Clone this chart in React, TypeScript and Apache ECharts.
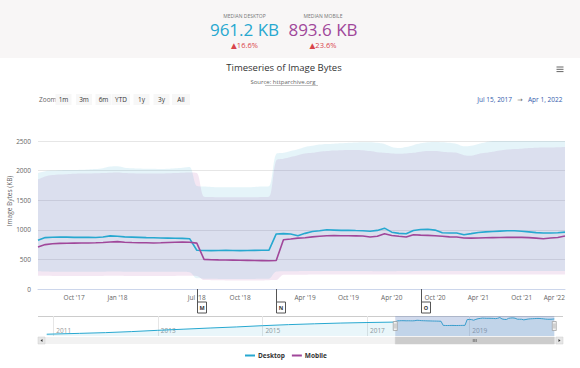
import React, { useEffect, useRef } from "react";
import * as echarts from "echarts";

// ---------- data ----------
const mainDates = [
  "2017-07-15", "2017-08-01", "2017-08-15", "2017-09-01", "2017-09-15", "2017-10-01", "2017-10-15",
  "2017-11-01", "2017-11-15", "2017-12-01", "2017-12-15",
  "2018-01-01", "2018-01-15", "2018-02-01", "2018-02-15", "2018-03-01", "2018-03-15", "2018-04-01",
  "2018-05-01", "2018-05-15", "2018-06-01", "2018-06-15", "2018-07-01", "2018-07-15", "2018-08-01",
  "2018-08-15", "2018-09-01", "2018-09-15", "2018-10-01", "2018-10-15", "2018-11-01", "2018-11-15",
  "2018-12-01", "2018-12-15",
  "2019-01-01", "2019-02-01", "2019-03-01", "2019-04-01", "2019-05-01", "2019-06-01", "2019-07-01",
  "2019-08-01", "2019-09-01", "2019-10-01", "2019-11-01", "2019-12-01",
  "2020-01-01", "2020-02-01", "2020-03-01", "2020-04-01", "2020-05-01", "2020-06-01", "2020-07-01",
  "2020-08-01", "2020-09-01", "2020-10-01", "2020-11-01", "2020-12-01",
  "2021-01-01", "2021-02-01", "2021-03-01", "2021-04-01", "2021-05-01", "2021-06-01", "2021-07-01",
  "2021-08-01", "2021-09-01", "2021-10-01", "2021-11-01", "2021-12-01",
  "2022-01-01", "2022-02-01", "2022-03-01", "2022-04-01",
];

const desktopMedian = [
  822, 868, 875, 878, 876, 872, 874, 872, 870, 878, 898, 890, 880, 876, 872, 868, 866, 862, 860, 858, 855, 850,
  655, 650, 648, 650, 652, 650, 648, 650, 652, 654, 656,
  930, 935, 928, 900, 940, 972, 985, 1000, 995, 990, 992, 988, 985,
  975, 990, 1028, 960, 940, 933, 988, 1005, 1010, 995, 950, 945,
  945, 917, 935, 955, 965, 972, 978, 983, 983, 975, 965, 952,
  945, 945, 950, 961,
];

const mobileMedian = [
  711, 750, 765, 770, 772, 775, 778, 778, 780, 785, 795, 800, 790, 785, 782, 780, 778, 780, 785, 790, 795, 790,
  775,
  500, 495, 492, 490, 488, 486, 484, 482, 480, 478, 482,
  833, 845, 860, 865, 880, 890, 900, 902, 900, 900, 898, 895,
  878, 890, 933, 905, 890, 878, 917, 910, 905, 900, 890, 880,
  878, 861, 860, 861, 865, 868, 870, 872, 872, 872, 868, 860,
  850, 862, 870, 894,
];

const desktopHigh = [
  1960, 1990, 2000, 2005, 2010, 2010, 2015, 2020, 2025, 2040, 2070, 2075, 2050, 2040, 2035, 2030, 2030, 2025, 2030, 2040, 2050, 2060,
  1740, 1730, 1725, 1720, 1720, 1720, 1720, 1720, 1725, 1730, 1735,
  2280, 2300, 2330, 2360, 2400, 2420, 2440, 2450, 2455, 2460, 2470, 2475, 2480,
  2480, 2470, 2450, 2400, 2380, 2400, 2430, 2460, 2480, 2485, 2480, 2470,
  2450, 2410, 2420, 2450, 2480, 2500, 2520, 2540, 2550, 2545, 2540, 2530,
  2520, 2515, 2515, 2520,
];

const desktopLow = [
  300, 295, 292, 290, 290, 290, 290, 290, 290, 292, 295, 295, 292, 290, 290, 290, 290, 290, 290, 290, 290, 285,
  180, 175, 172, 170, 170, 170, 170, 170, 170, 172, 175,
  295, 300, 300, 300, 302, 302, 305, 305, 305, 305, 305, 305, 305,
  305, 300, 300, 300, 305, 305, 305, 305, 305, 305, 305, 305,
  305, 305, 305, 305, 305, 305, 305, 305, 305, 305, 305, 305,
  305, 305, 305, 305,
];

const mobileHigh = [
  1850, 1900, 1925, 1935, 1940, 1945, 1950, 1950, 1955, 1960, 1965, 1970, 1960, 1955, 1950, 1950, 1950, 1950, 1955, 1960, 1965, 1970,
  1960,
  1560, 1555, 1550, 1550, 1550, 1550, 1550, 1550, 1555, 1560,
  2170,
  2200, 2230, 2260, 2290, 2300, 2320, 2330, 2340, 2345, 2350, 2350, 2345,
  2330, 2310, 2300, 2290, 2285, 2290, 2300, 2320, 2330, 2330, 2320, 2310,
  2300, 2260, 2250, 2280, 2300, 2320, 2340, 2355, 2365, 2370, 2380, 2385,
  2390, 2390, 2395, 2400,
];

const mobileLow = [
  225, 222, 220, 220, 220, 220, 218, 218, 218, 220, 222, 222, 220, 220, 218, 218, 218, 218, 220, 220, 222, 222,
  220,
  150, 148, 146, 145, 145, 145, 145, 145, 145, 148, 150,
  240, 240, 242, 242, 245, 245, 245, 245, 245, 245, 245, 245,
  245, 245, 245, 245, 245, 245, 245, 245, 245, 245, 245, 245,
  245, 245, 245, 245, 245, 245, 245, 245, 245, 245, 245, 245,
  245, 245, 245, 245,
];

const xLabelDates = [
  "2017-10-01", "2018-01-01", "2018-07-01", "2018-10-01", "2019-04-01", "2019-10-01",
  "2020-04-01", "2020-10-01", "2021-04-01", "2021-10-01", "2022-04-01",
];
const xLabelText = ["Oct '17", "Jan '18", "Jul '18", "Oct '18", "Apr '19", "Oct '19", "Apr '20", "Oct '20", "Apr '21", "Oct '21", "Apr '22"];

const yMin = 0;
const yMax = 2500;
const yStep = 500;

const flagDates = ["2018-07-01", "2018-12-15", "2020-08-01"];
const flagText = ["M", "N", "O"];

// navigator history (desktop median) before the main window
const navHistDates = [
  "2010-11-15", "2011-07-01", "2012-01-01", "2012-07-01", "2013-01-01", "2013-07-01", "2014-01-01",
  "2014-07-01", "2015-01-01", "2015-07-01", "2016-01-01", "2016-07-01", "2017-01-01", "2017-07-01",
];
const navHistDesktop = [235, 275, 310, 360, 420, 475, 530, 580, 640, 690, 730, 765, 790, 810];
const navTickDates = ["2011-01-01", "2013-01-01", "2015-01-01", "2017-01-01", "2019-01-01"];
const navTickText = ["2011", "2013", "2015", "2017", "2019"];

const medianDesktopText = "961.2 KB";
const medianMobileText = "893.6 KB";
const changeDesktopText = "16.6%";
const changeMobileText = "23.6%";

const rangeButtons = ["1m", "3m", "6m", "YTD", "1y", "3y", "All"];

// ---------- styles ----------
const FONT = '"Open Sans", "DejaVu Sans", sans-serif';
const C_DESK = "#27a8d0";
const C_MOB = "#a0479a";
const C_RED = "#d8434a";

const MONTHS = ["Jan", "Feb", "Mar", "Apr", "May", "Jun", "Jul", "Aug", "Sep", "Oct", "Nov", "Dec"];
function fmtDate(s: string) {
  const [y, m, d] = s.split("-").map(Number);
  return `${MONTHS[m - 1]} ${d}, ${y}`;
}

// ordinal list of crawl dates for the navigator (twice monthly before the main window)
function buildNavDates() {
  const out: string[] = [];
  for (let y = 2010; y <= 2017; y++) {
    for (let m = 1; m <= 12; m++) {
      for (const d of [1, 15]) {
        const s = `${y}-${String(m).padStart(2, "0")}-${String(d).padStart(2, "0")}`;
        if (s >= "2010-11-15" && s < mainDates[0]) out.push(s);
      }
    }
  }
  return out.concat(mainDates);
}

export default function App() {
  const ref = useRef<HTMLDivElement>(null);

  useEffect(() => {
    if (!ref.current) return;
    const chart = echarts.init(ref.current, null, { renderer: "svg" });

    const navDates = buildNavDates();
    const navIdx = (d: string) => navDates.indexOf(d);
    const navData: number[][] = [];
    navHistDates.forEach((d, i) => navData.push([navIdx(d), navHistDesktop[i]]));
    mainDates.forEach((d, i) => navData.push([navIdx(d), desktopMedian[i]]));
    const navTickIdx = navTickDates.map(navIdx);
    const maskStart = navIdx(mainDates[0]);
    const maskEnd = navIdx(mainDates[mainDates.length - 1]);
    const navMin = -4;
    const navMax = navDates.length - 1 + 4;

    const labelMap: Record<string, string> = {};
    xLabelDates.forEach((d, i) => (labelMap[d] = xLabelText[i]));

    const graphics: any[] = [
      { type: "rect", shape: { x: 0, y: 0, width: 580, height: 58 }, style: { fill: "#f8f6f6" }, silent: true },
      { type: "text", x: 244.5, y: 16, style: { text: "MEDIAN DESKTOP", textAlign: "center", textVerticalAlign: "middle", fontSize: 5, fill: "#777", fontFamily: FONT } },
      { type: "text", x: 244.5, y: 29.5, style: { text: medianDesktopText, textAlign: "center", textVerticalAlign: "middle", fontSize: 17, fill: C_DESK, fontFamily: FONT } },
      { type: "text", x: 244.5, y: 44.5, style: { text: "▲" + changeDesktopText, textAlign: "center", textVerticalAlign: "middle", fontSize: 7.5, fill: C_RED, fontFamily: FONT } },
      { type: "text", x: 323, y: 16, style: { text: "MEDIAN MOBILE", textAlign: "center", textVerticalAlign: "middle", fontSize: 5, fill: "#777", fontFamily: FONT } },
      { type: "text", x: 323, y: 29.5, style: { text: medianMobileText, textAlign: "center", textVerticalAlign: "middle", fontSize: 17, fill: C_MOB, fontFamily: FONT } },
      { type: "text", x: 323, y: 44.5, style: { text: "▲" + changeMobileText, textAlign: "center", textVerticalAlign: "middle", fontSize: 7.5, fill: C_RED, fontFamily: FONT } },
      // title
      { type: "text", x: 284, y: 67.5, style: { text: "Timeseries of Image Bytes", textAlign: "center", textVerticalAlign: "middle", fontSize: 9.5, fill: "#333", fontFamily: FONT } },
      { type: "text", x: 283, y: 82, style: { text: "Source: httparchive.org", textAlign: "center", textVerticalAlign: "middle", fontSize: 6, fill: "#666", fontFamily: FONT } },
      { type: "line", shape: { x1: 265, y1: 85.5, x2: 318, y2: 85.5 }, style: { stroke: "#888", lineWidth: 0.5 }, silent: true },
      // hamburger
      { type: "line", shape: { x1: 556.5, y1: 67, x2: 563.5, y2: 67 }, style: { stroke: "#666", lineWidth: 1 } },
      { type: "line", shape: { x1: 556.5, y1: 69.3, x2: 563.5, y2: 69.3 }, style: { stroke: "#666", lineWidth: 1 } },
      { type: "line", shape: { x1: 556.5, y1: 71.6, x2: 563.5, y2: 71.6 }, style: { stroke: "#666", lineWidth: 1 } },
      // range selector
      { type: "text", x: 39, y: 99.5, style: { text: "Zoom", textAlign: "left", textVerticalAlign: "middle", fontSize: 6.5, fill: "#666", fontFamily: FONT } },
      // date range
      { type: "text", x: 512, y: 99.5, style: { text: fmtDate(mainDates[0]), textAlign: "right", textVerticalAlign: "middle", fontSize: 6.5, fill: "#335cad", fontFamily: FONT } },
      { type: "text", x: 520, y: 99.5, style: { text: "→", textAlign: "center", textVerticalAlign: "middle", fontSize: 6.5, fill: "#666", fontFamily: FONT } },
      { type: "text", x: 528, y: 99.5, style: { text: fmtDate(mainDates[mainDates.length - 1]), textAlign: "left", textVerticalAlign: "middle", fontSize: 6.5, fill: "#335cad", fontFamily: FONT } },
      // y axis title
      { type: "text", x: 9, y: 201, rotation: Math.PI / 2, style: { text: "Image Bytes (KB)", textAlign: "center", textVerticalAlign: "middle", fontSize: 6.5, fill: "#666", fontFamily: FONT } },
      // navigator outline
      { type: "line", shape: { x1: 38, y1: 316.5, x2: 563, y2: 316.5 }, style: { stroke: "#cccccc", lineWidth: 1 }, silent: true },
      // scrollbar track + buttons
      { type: "rect", shape: { x: 38, y: 337, width: 525, height: 7 }, style: { fill: "#f2f2f2" }, silent: true },
      { type: "rect", shape: { x: 38, y: 337, width: 7, height: 7 }, style: { fill: "#e6e6e6", stroke: "#cccccc", lineWidth: 0.5 }, silent: true },
      { type: "polygon", shape: { points: [[40.5, 340.5], [42.5, 339], [42.5, 342]] }, style: { fill: "#333" }, silent: true },
      { type: "rect", shape: { x: 556, y: 337, width: 7, height: 7 }, style: { fill: "#e6e6e6", stroke: "#cccccc", lineWidth: 0.5 }, silent: true },
      { type: "polygon", shape: { points: [[560.5, 340.5], [558.5, 339], [558.5, 342]] }, style: { fill: "#333" }, silent: true },
    ];

    const btnCenters = [63.5, 84, 103.5, 121, 141.5, 161.5, 181];
    rangeButtons.forEach((b, i) => {
      const w = b.length > 2 ? 18 : 16;
      graphics.push({ type: "rect", shape: { x: btnCenters[i] - w / 2, y: 94, width: w, height: 11 }, style: { fill: "#f7f7f7" }, silent: true });
      graphics.push({ type: "text", x: btnCenters[i], y: 99.5, style: { text: b, textAlign: "center", textVerticalAlign: "middle", fontSize: 6.5, fill: "#333", fontFamily: FONT } });
    });

    const bandCommon = { type: "line", symbol: "none", silent: true, smooth: 0.3, lineStyle: { opacity: 0, width: 0 }, xAxisIndex: 0, yAxisIndex: 0 };

    const option: any = {
      animation: false,
      textStyle: { fontFamily: FONT },
      graphic: graphics,
      legend: {
        data: ["Desktop", "Mobile"],
        left: 240,
        top: 347,
        icon: "rect",
        itemWidth: 10,
        itemHeight: 2,
        itemGap: 7,
        textStyle: { fontSize: 6.5, fontWeight: "bold", color: "#333", fontFamily: FONT, padding: [0, 0, 0, -2] },
      },
      grid: [
        { left: 38, right: 15, top: 141, height: 148 },
        { left: 38, right: 17, top: 316, height: 20 },
      ],
      xAxis: [
        {
          type: "category",
          gridIndex: 0,
          data: mainDates,
          boundaryGap: false,
          axisLine: { lineStyle: { color: "#ccd6eb" } },
          axisTick: { show: false },
          splitLine: { show: false },
          axisLabel: {
            interval: (idx: number) => labelMap[mainDates[idx]] !== undefined,
            formatter: (v: string) => labelMap[v] || "",
            fontSize: 6.5,
            color: "#666",
            margin: 5,
            alignMaxLabel: "right",
          },
        },
        {
          type: "value",
          gridIndex: 1,
          min: navMin,
          max: navMax,
          axisLine: { show: false },
          axisTick: { show: false, customValues: navTickIdx },
          splitLine: { show: true, lineStyle: { color: "#e6e6e6", width: 1 } },
          axisLabel: {
            customValues: navTickIdx,
            formatter: (v: number) => navTickText[navTickIdx.indexOf(v)] || "",
            inside: true,
            align: "left",
            padding: [0, 0, 0, 3],
            margin: 2,
            fontSize: 6.5,
            color: "#999",
          },
        },
      ],
      yAxis: [
        {
          type: "value",
          gridIndex: 0,
          min: yMin,
          max: yMax,
          interval: yStep,
          axisLine: { show: false },
          axisTick: { show: false },
          splitLine: { lineStyle: { color: "#e6e6e6" } },
          axisLabel: { fontSize: 6.5, color: "#666", margin: 7, padding: [0, 0, 4, 0], formatter: (v: number) => String(v) },
        },
        { type: "value", gridIndex: 1, min: 150, max: 1100, show: false, splitLine: { show: false } },
      ],
      series: [
        { ...bandCommon, name: "mLow", stack: "mband", data: mobileLow, z: 1 },
        {
          ...bandCommon,
          name: "Mobile range",
          stack: "mband",
          data: mobileHigh.map((v, i) => v - mobileLow[i]),
          areaStyle: { color: "rgba(170,70,160,0.13)", opacity: 1 },
          z: 1,
        },
        { ...bandCommon, name: "dLow", stack: "dband", data: desktopLow, z: 1 },
        {
          ...bandCommon,
          name: "Desktop range",
          stack: "dband",
          data: desktopHigh.map((v, i) => v - desktopLow[i]),
          areaStyle: { color: "rgba(39,168,208,0.12)", opacity: 1 },
          z: 1,
        },
        {
          name: "Desktop",
          type: "line",
          data: desktopMedian,
          symbol: "none",
          lineStyle: { color: C_DESK, width: 1.6 },
          itemStyle: { color: C_DESK },
          z: 3,
        },
        {
          name: "Mobile",
          type: "line",
          data: mobileMedian,
          symbol: "none",
          lineStyle: { color: C_MOB, width: 1.6 },
          itemStyle: { color: C_MOB },
          z: 3,
        },
        {
          name: "flags",
          type: "custom",
          xAxisIndex: 0,
          yAxisIndex: 0,
          silent: true,
          clip: false,
          z: 5,
          data: flagDates.map((d) => [d, 0]),
          renderItem: (params: any, api: any) => {
            const p = api.coord([api.value(0), 0]);
            const x = Math.round(p[0]) + 0.5;
            const y = p[1];
            return {
              type: "group",
              children: [
                { type: "line", shape: { x1: x, y1: y, x2: x, y2: y + 24 }, style: { stroke: "#555", lineWidth: 1 } },
                { type: "rect", shape: { x: x, y: y + 13, width: 9, height: 11 }, style: { fill: "#fff", stroke: "#555", lineWidth: 1 } },
                {
                  type: "text",
                  style: {
                    text: flagText[params.dataIndex],
                    x: x + 4.5,
                    y: y + 18.7,
                    textAlign: "center",
                    textVerticalAlign: "middle",
                    fontSize: 5.5,
                    fontWeight: "bold",
                    fill: "#333",
                    fontFamily: FONT,
                  },
                },
              ],
            };
          },
        },
        {
          name: "navigator",
          type: "line",
          xAxisIndex: 1,
          yAxisIndex: 1,
          data: navData,
          symbol: "none",
          connectNulls: true,
          silent: true,
          lineStyle: { color: C_DESK, width: 1 },
          areaStyle: { color: "rgba(39,168,208,0.1)", opacity: 1, origin: "start" },
          z: 2,
        },
        {
          name: "navmask",
          type: "custom",
          xAxisIndex: 1,
          yAxisIndex: 1,
          silent: true,
          clip: false,
          z: 4,
          data: [[maskStart, maskEnd]],
          encode: { x: [0, 1] },
          renderItem: (params: any, api: any) => {
            const a = api.coord([api.value(0), 1100]);
            const b = api.coord([api.value(1), 150]);
            const x1 = a[0];
            const x2 = b[0];
            const top = a[1];
            const bot = b[1];
            const mid = (top + bot) / 2;
            const handle = (hx: number) => ({
              type: "group",
              children: [
                { type: "rect", shape: { x: hx - 2, y: mid - 4.5, width: 4, height: 9 }, style: { fill: "#f2f2f2", stroke: "#999", lineWidth: 0.7 } },
                { type: "line", shape: { x1: hx - 0.5, y1: mid - 2.5, x2: hx - 0.5, y2: mid + 2.5 }, style: { stroke: "#999", lineWidth: 0.5 } },
                { type: "line", shape: { x1: hx + 0.7, y1: mid - 2.5, x2: hx + 0.7, y2: mid + 2.5 }, style: { stroke: "#999", lineWidth: 0.5 } },
              ],
            });
            const gx = (x1 + x2) / 2;
            return {
              type: "group",
              children: [
                { type: "rect", shape: { x: x1, y: top, width: x2 - x1, height: bot - top }, style: { fill: "rgba(102,133,194,0.3)" } },
                handle(x1),
                handle(x2),
                { type: "rect", shape: { x: x1, y: 337, width: x2 - x1, height: 7 }, style: { fill: "#cccccc", stroke: "#cccccc", lineWidth: 0.5 } },
                { type: "line", shape: { x1: gx - 1.5, y1: 339, x2: gx - 1.5, y2: 342 }, style: { stroke: "#333", lineWidth: 0.5 } },
                { type: "line", shape: { x1: gx, y1: 339, x2: gx, y2: 342 }, style: { stroke: "#333", lineWidth: 0.5 } },
                { type: "line", shape: { x1: gx + 1.5, y1: 339, x2: gx + 1.5, y2: 342 }, style: { stroke: "#333", lineWidth: 0.5 } },
              ],
            };
          },
        },
      ],
    };

    chart.setOption(option);
    return () => chart.dispose();
  }, []);

  return <div ref={ref} style={{ position: "absolute", left: 0, top: 0, width: 580, height: 368, background: "#fff" }} />;
}
